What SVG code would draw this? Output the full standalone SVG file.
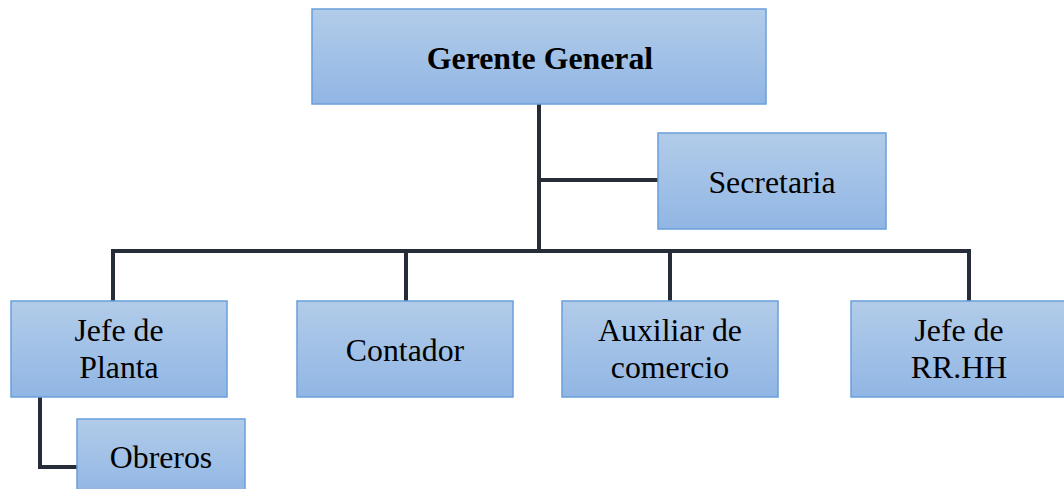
<svg xmlns="http://www.w3.org/2000/svg" width="1064" height="489" viewBox="0 0 1064 489">
<defs>
<linearGradient id="g" x1="0" y1="0" x2="0" y2="1">
<stop offset="0" stop-color="#b2cce9"/>
<stop offset="1" stop-color="#91b6e4"/>
</linearGradient>
<style>
.box{fill:url(#g);stroke:#6a9fdc;stroke-width:1.5}
.t{font-family:"Liberation Serif","Times New Roman",serif;font-size:31.8px;fill:#000;text-anchor:middle}
.b{font-weight:bold}
.c{fill:none;stroke:#262d38;stroke-width:4}
</style>
</defs>
<rect width="1064" height="489" fill="#fff"/>
<g id="connectors">
<path class="c" d="M539 104V251"/>
<path class="c" d="M539 180H658"/>
<path class="c" d="M113 301V251H969V301"/>
<path class="c" d="M406 251V301"/>
<path class="c" d="M670 251V301"/>
<path class="c" d="M40 397V467H77"/>
</g>
<g id="gerente">
<rect class="box" x="312" y="9" width="454" height="95"/>
<text class="t b" x="540" y="69">Gerente General</text>
</g>
<g id="secretaria">
<rect class="box" x="658" y="133" width="228" height="96"/>
<text class="t" x="772" y="193">Secretaria</text>
</g>
<g id="jefe-planta">
<rect class="box" x="11" y="301" width="216" height="96"/>
<text class="t" x="119" y="341">Jefe de</text>
<text class="t" x="119" y="378">Planta</text>
</g>
<g id="contador">
<rect class="box" x="297" y="301" width="216" height="96"/>
<text class="t" x="405" y="361">Contador</text>
</g>
<g id="auxiliar">
<rect class="box" x="562" y="301" width="216" height="96"/>
<text class="t" x="670" y="341">Auxiliar de</text>
<text class="t" x="670" y="378">comercio</text>
</g>
<g id="jefe-rrhh">
<rect class="box" x="851" y="301" width="216" height="96"/>
<text class="t" x="959" y="341">Jefe de</text>
<text class="t" x="959" y="378">RR.HH</text>
</g>
<g id="obreros">
<rect class="box" x="77" y="419" width="168" height="75"/>
<text class="t" x="161" y="468">Obreros</text>
</g>
</svg>
